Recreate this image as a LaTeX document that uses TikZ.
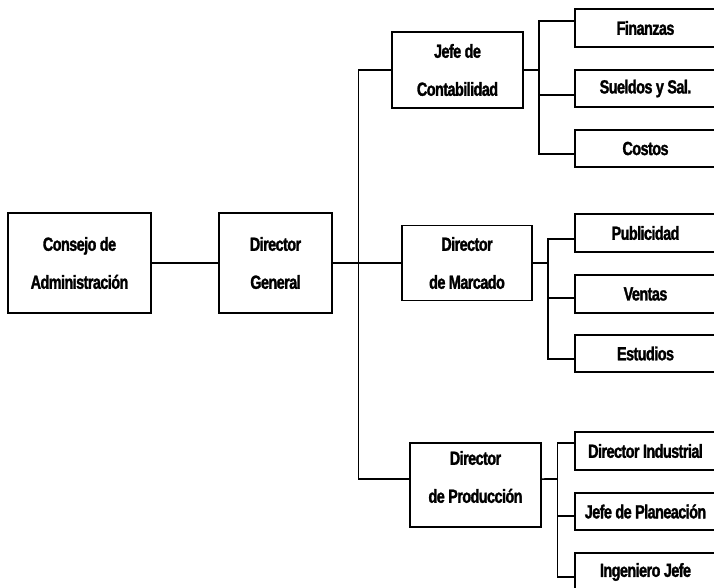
\documentclass[tikz,border=0pt]{standalone}
\usepackage{fontspec}
\setmainfont{Liberation Sans}[FakeStretch=0.76, LetterSpace=-3, BoldFeatures={FakeBold=1.5}]
\usetikzlibrary{calc}
\newcommand\orgfont{\fontsize{19}{38}\selectfont\bfseries}
\begin{document}
\begin{tikzpicture}[x=1pt, y=-1pt,
  box/.style={draw, line width=1.7pt, inner sep=0pt, outer sep=0pt,
              align=center, font=\orgfont},
  leaf/.style={box, minimum width=141pt, minimum height=37.5pt},
  link/.style={line width=1.7pt}]
\useasboundingbox (0,0) rectangle (714,588);
\clip (0,0) rectangle (714,588);

% top levels
\node[box, minimum width=143pt, minimum height=100pt] (cons) at (79.5,263) {Consejo de\\Administración};
\node[box, minimum width=113pt, minimum height=100pt] (dg) at (275.5,263) {Director\\General};

% second level
\node[box, minimum width=131pt, minimum height=76pt] (jc) at (457.5,70) {Jefe de\\Contabilidad};
\node[box, minimum width=130pt, minimum height=75pt] (dm) at (467,263) {Director\\de Marcado};
\node[box, minimum width=131pt, minimum height=84pt] (dp) at (475.5,485) {};
\node[align=center, font=\orgfont, inner sep=0pt] (dptxt) at ($(dp.center)+(0,-8)$) {Director\\de Producción};

% third level (right edge runs off the sheet)
\node[leaf] (fin) at (645.5,28)  {Finanzas};
\node[leaf] (sue) at (645.5,88.5) {Sueldos y Sal.};
\node[leaf] (cos) at (645.5,148.5) {Costos};
\node[leaf] (pub) at (645.5,233) {Publicidad};
\node[leaf] (ven) at (645.5,294) {Ventas};
\node[leaf] (est) at (645.5,353.5) {Estudios};
\node[leaf] (di)  at (645.5,451) {Director Industrial};
\node[leaf] (jp)  at (645.5,511.5) {Jefe de Planeación};
\node[leaf] (ij)  at (645.5,572) {Ingeniero Jefe};

% junction points
\coordinate (trunk) at (358.5,263);
\coordinate (jcbus) at (539,70);
\coordinate (dmbus) at (548,263);
\coordinate (dpbus) at (557.5,479);

% entry points on the west sides
\coordinate (dpin)  at ($(dp.north west)!0.43!(dp.south west)$);
\coordinate (finin) at ($(fin.north west)!0.31!(fin.south west)$);
\coordinate (suein) at ($(sue.north west)!0.68!(sue.south west)$);
\coordinate (cosin) at ($(cos.north west)!0.65!(cos.south west)$);
\coordinate (pubin) at ($(pub.north west)!0.66!(pub.south west)$);
\coordinate (venin) at ($(ven.north west)!0.60!(ven.south west)$);
\coordinate (estin) at ($(est.north west)!0.65!(est.south west)$);
\coordinate (diin)  at ($(di.north west)!0.29!(di.south west)$);
\coordinate (jpin)  at ($(jp.north west)!0.62!(jp.south west)$);
\coordinate (ijin)  at ($(ij.north west)!0.63!(ij.south west)$);

% connectors
\draw[link] (cons.east) -- (dg.west);
\draw[link] (dg.east) -- (trunk);
\draw[link] (jc.west) -| (trunk) |- (dpin);
\draw[link] (trunk) -- (dm.west);

\draw[link] (jc.east) -- (jcbus);
\draw[link] (finin) -| (jcbus) |- (cosin);
\draw[link] (jcbus |- suein) -- (suein);

\draw[link] (dm.east) -- (dmbus);
\draw[link] (pubin) -| (dmbus) |- (estin);
\draw[link] (dmbus |- venin) -- (venin);

\draw[link] (dpin -| dp.east) -- (dpbus);
\draw[link] (diin) -| (dpbus) |- (ijin);
\draw[link] (dpbus |- jpin) -- (jpin);
\end{tikzpicture}
\end{document}
